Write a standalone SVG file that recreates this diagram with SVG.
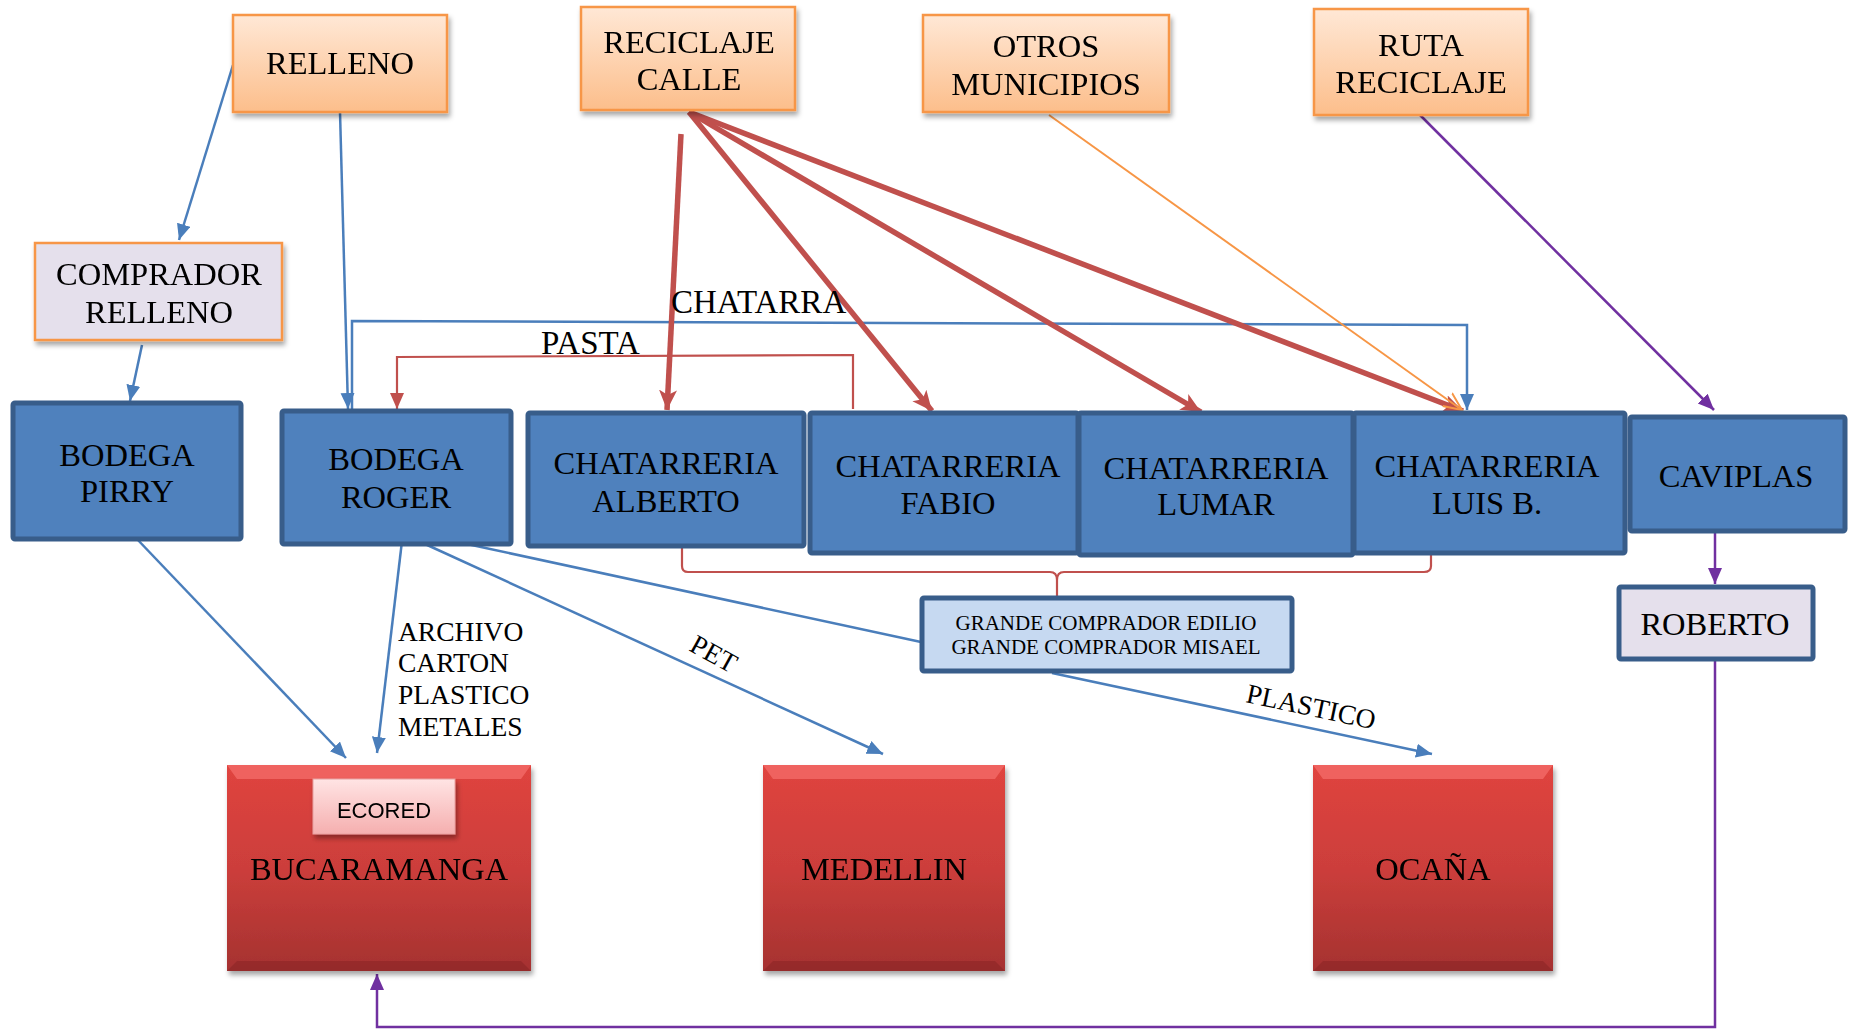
<svg xmlns="http://www.w3.org/2000/svg" width="1853" height="1029" viewBox="0 0 1853 1029">
<style>
text{font-family:"Liberation Serif","Times New Roman",serif;fill:#000;text-anchor:middle}
.t{font-size:32.5px}
.lbl{font-size:33px;text-anchor:start}
.sm{font-size:27.5px;text-anchor:start}
.g{font-size:21px}
.org{fill:url(#gOrg);stroke:#F79646;stroke-width:2.5}
.lil{fill:#E5E0EC;stroke:#F79646;stroke-width:2.5}
.blu{fill:#4F81BD;stroke:#385D8A;stroke-width:5}
.lblu{fill:#C6D9F1;stroke:#385D8A;stroke-width:5}
.rob{fill:#E5E0EC;stroke:#385D8A;stroke-width:5}
.red{fill:url(#gRed)}
.cb{fill:none;stroke:#4A7EBB;stroke-width:2.5}
.cr{fill:none;stroke:#C0504D;stroke-width:2.2}
.crt{fill:none;stroke:#C0504D;stroke-width:5.5}
.co{fill:none;stroke:#F79646;stroke-width:2}
.cp{fill:none;stroke:#7030A0;stroke-width:2.5}
</style>
<defs>
<linearGradient id="gOrg" x1="0" y1="0" x2="0" y2="1"><stop offset="0" stop-color="#FFE8D6"/><stop offset="1" stop-color="#FCBE8B"/></linearGradient>
<linearGradient id="gRed" x1="0" y1="0" x2="0" y2="1"><stop offset="0" stop-color="#E0443F"/><stop offset="0.5" stop-color="#CC3E3B"/><stop offset="1" stop-color="#A53230"/></linearGradient>
<linearGradient id="gPink" x1="0" y1="0" x2="0" y2="1"><stop offset="0" stop-color="#FFE4E4"/><stop offset="1" stop-color="#F5AFAF"/></linearGradient>
<filter id="sh" x="-10%" y="-10%" width="130%" height="130%"><feDropShadow dx="2" dy="4" stdDeviation="2.5" flood-color="#000" flood-opacity="0.35"/></filter>
<marker id="aB" markerUnits="userSpaceOnUse" markerWidth="18" markerHeight="16" refX="16" refY="7" orient="auto"><path d="M0,0 L16,7 L0,14 Z" fill="#4A7EBB"/></marker>
<marker id="aR" markerUnits="userSpaceOnUse" markerWidth="22" markerHeight="20" refX="20" refY="9" orient="auto"><path d="M0,0 L20,9 L0,18 L5,9 Z" fill="#C0504D"/></marker>
<marker id="aRs" markerUnits="userSpaceOnUse" markerWidth="18" markerHeight="16" refX="16" refY="7" orient="auto"><path d="M0,0 L16,7 L0,14 Z" fill="#C0504D"/></marker>
<marker id="aO" markerUnits="userSpaceOnUse" markerWidth="20" markerHeight="20" refX="18" refY="9" orient="auto"><path d="M0,1 L18,9 L0,17" fill="none" stroke="#F79646" stroke-width="2"/></marker>
<marker id="aP" markerUnits="userSpaceOnUse" markerWidth="18" markerHeight="16" refX="16" refY="7" orient="auto"><path d="M0,0 L16,7 L0,14 Z" fill="#7030A0"/></marker>
</defs>
<rect width="1853" height="1029" fill="#fff"/>

<g id="connectors">
<path class="cb" d="M233,65 L179,240" marker-end="url(#aB)"/>
<path class="cb" d="M340,112 L348,409" marker-end="url(#aB)"/>
<path class="cb" d="M142,345 L130,401" marker-end="url(#aB)"/>
<path class="cb" d="M352,409 L352,321 L1467,325 L1467,410" marker-end="url(#aB)"/>
<path class="cr" d="M853,409 L853,355 L397,357 L397,409" marker-end="url(#aRs)"/>
<path class="crt" d="M681,134 L667,410" marker-end="url(#aR)"/>
<path class="crt" d="M689,112 L932,411" marker-end="url(#aR)"/>
<path class="crt" d="M689,112 L1201,412" marker-end="url(#aR)"/>
<path class="crt" d="M689,112 L1463,411" marker-end="url(#aR)"/>
<path class="co" d="M1049,115 L1462,410" marker-end="url(#aO)"/>
<path class="cp" d="M1420,115 L1714,410" marker-end="url(#aP)"/>
<path class="cp" d="M1715,532 L1715,584" marker-end="url(#aP)"/>
<path class="cp" d="M1715,659 L1715,1027 L377,1027 L377,974" marker-end="url(#aP)"/>
<path class="cb" d="M136,538 L346,758" marker-end="url(#aB)"/>
<path class="cb" d="M402,541 L377,753" marker-end="url(#aB)"/>
<path class="cb" d="M425,544 L883,754" marker-end="url(#aB)"/>
<path class="cb" d="M467,544 L921,642"/>
<path class="cb" d="M1052,673 L1432,754" marker-end="url(#aB)"/>
<path class="cr" d="M682,547 L682,566 Q682,572 688,572 L1050,572 Q1057,572 1057,580 L1057,597 M1057,580 Q1057,572 1064,572 L1424,572 Q1431,572 1431,566 L1431,547"/>
<text class="lbl" x="671" y="313">CHATARRA</text>
<text class="lbl" x="541" y="354">PASTA</text>
<text class="sm" x="398" y="641">ARCHIVO</text>
<text class="sm" x="398" y="672">CARTON</text>
<text class="sm" x="398" y="704">PLASTICO</text>
<text class="sm" x="398" y="736">METALES</text>
<text class="sm" x="0" y="0" transform="translate(688,650) rotate(29)">PET</text>
<text class="sm" x="0" y="0" transform="translate(1245,702) rotate(12)">PLASTICO</text>
</g>

<g id="n-relleno" filter="url(#sh)"><rect class="org" x="233" y="15" width="214" height="97"/><text class="t" x="340" y="74">RELLENO</text></g>
<g id="n-reciclaje-calle" filter="url(#sh)"><rect class="org" x="581" y="7" width="214" height="103"/><text class="t" x="689" y="53">RECICLAJE</text><text class="t" x="689" y="90">CALLE</text></g>
<g id="n-otros" filter="url(#sh)"><rect class="org" x="923" y="15" width="246" height="97"/><text class="t" x="1046" y="57">OTROS</text><text class="t" x="1046" y="95">MUNICIPIOS</text></g>
<g id="n-ruta" filter="url(#sh)"><rect class="org" x="1314" y="9" width="214" height="106"/><text class="t" x="1421" y="56">RUTA</text><text class="t" x="1421" y="93">RECICLAJE</text></g>
<g id="n-comprador" filter="url(#sh)"><rect class="lil" x="35" y="243" width="247" height="97"/><text class="t" x="159" y="285">COMPRADOR</text><text class="t" x="159" y="323">RELLENO</text></g>

<g id="n-pirry"><rect class="blu" x="13" y="403" width="228" height="136" rx="2"/><text class="t" x="127" y="466">BODEGA</text><text class="t" x="127" y="502">PIRRY</text></g>
<g id="n-roger"><rect class="blu" x="282" y="411" width="229" height="133" rx="2"/><text class="t" x="396" y="470">BODEGA</text><text class="t" x="396" y="508">ROGER</text></g>
<g id="n-alberto"><rect class="blu" x="528" y="413" width="276" height="133" rx="2"/><text class="t" x="666" y="474">CHATARRERIA</text><text class="t" x="666" y="512">ALBERTO</text></g>
<g id="n-fabio"><rect class="blu" x="810" y="413" width="268" height="140" rx="2"/><text class="t" x="948" y="477">CHATARRERIA</text><text class="t" x="948" y="514">FABIO</text></g>
<g id="n-lumar"><rect class="blu" x="1079" y="413" width="274" height="142" rx="2"/><text class="t" x="1216" y="479">CHATARRERIA</text><text class="t" x="1216" y="515">LUMAR</text></g>
<g id="n-luisb"><rect class="blu" x="1354" y="413" width="271" height="140" rx="2"/><text class="t" x="1487" y="477">CHATARRERIA</text><text class="t" x="1487" y="514">LUIS B.</text></g>
<g id="n-caviplas"><rect class="blu" x="1630" y="417" width="215" height="114" rx="2"/><text class="t" x="1736" y="487">CAVIPLAS</text></g>
<g id="n-roberto"><rect class="rob" x="1619" y="587" width="194" height="72" rx="2"/><text class="t" x="1715" y="635">ROBERTO</text></g>
<g id="n-grande"><rect class="lblu" x="922" y="598" width="370" height="73" rx="2"/><text class="g" x="1106" y="630">GRANDE COMPRADOR EDILIO</text><text class="g" x="1106" y="654">GRANDE COMPRADOR MISAEL</text></g>

<g id="n-bucaramanga" filter="url(#sh)"><rect class="red" x="227" y="765" width="304" height="206"/><path d="M227,765 L531,765 L521,779 L237,779 Z" fill="#F26A66" opacity="0.8"/><path d="M227,971 L531,971 L521,961 L237,961 Z" fill="#7E2422" opacity="0.4"/>
<g id="n-ecored" filter="url(#sh)"><rect x="313" y="779" width="142" height="55" fill="url(#gPink)" stroke="#E8A0A0" stroke-width="1"/><text x="384" y="818" style="font-family:'Liberation Sans',Arial,sans-serif;font-size:22px">ECORED</text></g>
<text class="t" x="379" y="880">BUCARAMANGA</text></g>
<g id="n-medellin" filter="url(#sh)"><rect class="red" x="763" y="765" width="242" height="206"/><path d="M763,765 L1005,765 L995,779 L773,779 Z" fill="#F26A66" opacity="0.8"/><path d="M763,971 L1005,971 L995,961 L773,961 Z" fill="#7E2422" opacity="0.4"/><text class="t" x="884" y="880">MEDELLIN</text></g>
<g id="n-ocana" filter="url(#sh)"><rect class="red" x="1313" y="765" width="240" height="206"/><path d="M1313,765 L1553,765 L1543,779 L1323,779 Z" fill="#F26A66" opacity="0.8"/><path d="M1313,971 L1553,971 L1543,961 L1323,961 Z" fill="#7E2422" opacity="0.4"/><text class="t" x="1433" y="880">OCAÑA</text></g>
</svg>
